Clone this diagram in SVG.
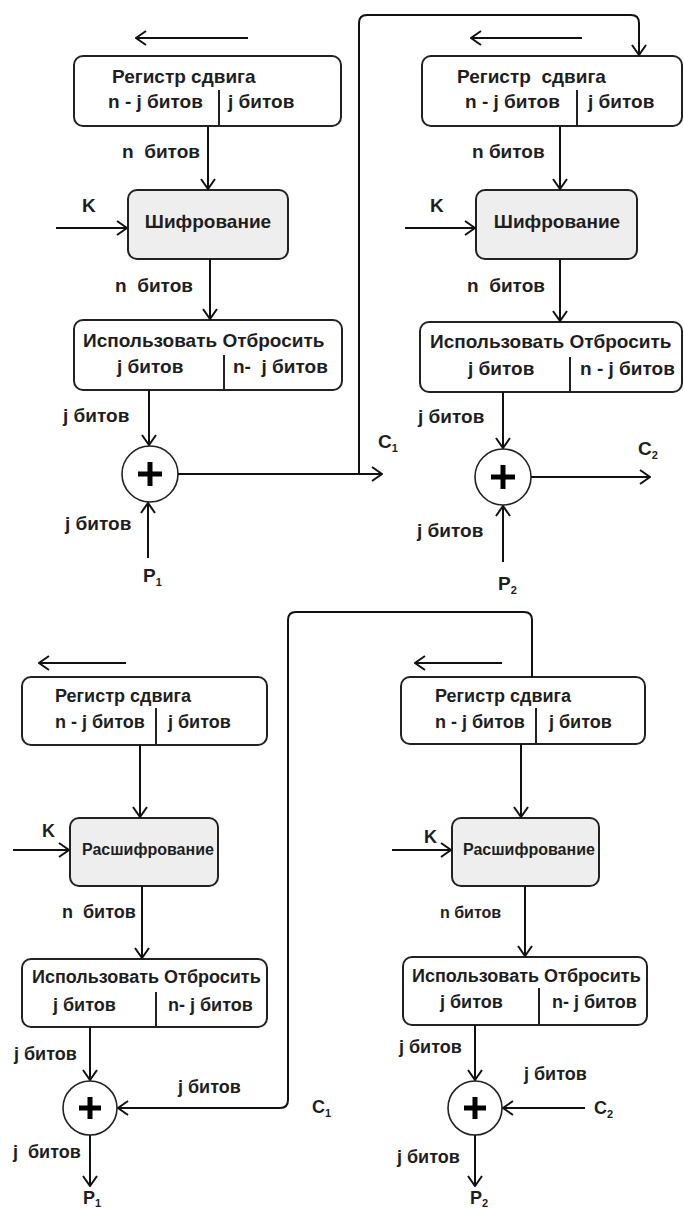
<svg xmlns="http://www.w3.org/2000/svg" width="684" height="1208" viewBox="0 0 684 1208">
  <defs>
    <marker id="arr" viewBox="0 0 12 16" refX="11" refY="8" markerWidth="12" markerHeight="16" markerUnits="userSpaceOnUse" orient="auto">
      <path d="M1,1 L11,8 L1,15" fill="none" stroke="#111" stroke-width="2"/>
    </marker>
    <style>
      .box{fill:#fff;stroke:#222;stroke-width:2}
      .proc{fill:#eeeeee;stroke:#222;stroke-width:2}
      .div{stroke:#222;stroke-width:2}
      .ar{fill:none;stroke:#111;stroke-width:2;marker-end:url(#arr)}
      .xor{fill:#fff;stroke:#222;stroke-width:1.6}
      .plus{stroke:#000;stroke-width:5}
      text{font-family:"Liberation Sans",Arial,sans-serif;font-weight:bold;fill:#1e1e1e;white-space:pre}
      .t{font-size:19px}
      .s{font-size:18px}
      .r{font-size:16px}
      .sub{font-size:11px}
    </style>
  </defs>

  <!-- ===== Encryption, stage 1 ===== -->
  <g id="enc1-shift"><path class="ar" d="M248,38 L136,38"/></g>
  <g id="enc1-register">
    <rect class="box" x="74" y="56" width="267" height="70" rx="9"/>
    <line class="div" x1="219" y1="90" x2="219" y2="126"/>
    <text class="t" x="112" y="83">Регистр сдвига</text>
    <text class="t" x="108" y="108">n - j битов</text>
    <text class="t" x="228" y="108">j битов</text>
  </g>
  <g id="enc1-cipher">
    <rect class="proc" x="128" y="190" width="160" height="69" rx="9"/>
    <text class="t" x="208" y="228" text-anchor="middle">Шифрование</text>
  </g>
  <g id="enc1-select">
    <rect class="box" x="74" y="320" width="268" height="70" rx="9"/>
    <line class="div" x1="224" y1="355" x2="224" y2="390"/>
    <text class="t" x="83" y="347">Использовать Отбросить</text>
    <text class="t" x="117" y="373">j битов</text>
    <text class="t" x="233" y="373" xml:space="preserve">n-  j битов</text>
  </g>
  <g id="enc1-xor">
    <circle class="xor" cx="150" cy="474" r="28"/>
    <path class="plus" d="M138,474 H162 M150,462 V486"/>
  </g>

  <!-- ===== Encryption, stage 2 ===== -->
  <g id="enc2-shift"><path class="ar" d="M582,38 L471,38"/></g>
  <g id="enc2-register">
    <rect class="box" x="422" y="56" width="260" height="70" rx="9"/>
    <line class="div" x1="577" y1="90" x2="577" y2="126"/>
    <text class="t" x="457" y="83" xml:space="preserve">Регистр  сдвига</text>
    <text class="t" x="465" y="108">n - j битов</text>
    <text class="t" x="588" y="108">j битов</text>
  </g>
  <g id="enc2-cipher">
    <rect class="proc" x="476" y="190" width="161" height="69" rx="9"/>
    <text class="t" x="557" y="228" text-anchor="middle">Шифрование</text>
  </g>
  <g id="enc2-select">
    <rect class="box" x="420" y="322" width="262" height="70" rx="9"/>
    <line class="div" x1="570" y1="357" x2="570" y2="392"/>
    <text class="t" x="430" y="348">Использовать Отбросить</text>
    <text class="t" x="468" y="375">j битов</text>
    <text class="t" x="580" y="375">n - j битов</text>
  </g>
  <g id="enc2-xor">
    <circle class="xor" cx="503" cy="477" r="28"/>
    <path class="plus" d="M491,477 H515 M503,465 V489"/>
  </g>

  <!-- ===== Decryption, stage 1 ===== -->
  <g id="dec1-shift"><path class="ar" d="M126,663 L39,663"/></g>
  <g id="dec1-register">
    <rect class="box" x="22" y="677" width="245" height="68" rx="9"/>
    <line class="div" x1="156" y1="708" x2="156" y2="745"/>
    <text class="s" x="55" y="702">Регистр сдвига</text>
    <text class="s" x="55" y="728">n - j битов</text>
    <text class="s" x="168" y="728">j битов</text>
  </g>
  <g id="dec1-cipher">
    <rect class="proc" x="70" y="818" width="148" height="68" rx="9"/>
    <text class="r" x="82" y="855">Расшифрование</text>
  </g>
  <g id="dec1-select">
    <rect class="box" x="22" y="959" width="245" height="68" rx="9"/>
    <line class="div" x1="156" y1="992" x2="156" y2="1027"/>
    <text class="s" x="32" y="983">Использовать Отбросить</text>
    <text class="s" x="53" y="1011">j битов</text>
    <text class="s" x="168" y="1011">n- j битов</text>
  </g>
  <g id="dec1-xor">
    <circle class="xor" cx="90" cy="1108" r="27"/>
    <path class="plus" d="M79,1108 H101 M90,1097 V1119"/>
  </g>

  <!-- ===== Decryption, stage 2 ===== -->
  <g id="dec2-shift"><path class="ar" d="M502,663 L415,663"/></g>
  <g id="dec2-register">
    <rect class="box" x="401" y="677" width="244" height="67" rx="9"/>
    <line class="div" x1="536" y1="708" x2="536" y2="744"/>
    <text class="s" x="435" y="702">Регистр сдвига</text>
    <text class="s" x="435" y="728">n - j битов</text>
    <text class="s" x="549" y="728">j битов</text>
  </g>
  <g id="dec2-cipher">
    <rect class="proc" x="452" y="818" width="147" height="68" rx="9"/>
    <text class="r" x="463" y="855">Расшифрование</text>
  </g>
  <g id="dec2-select">
    <rect class="box" x="403" y="957" width="244" height="68" rx="9"/>
    <line class="div" x1="539" y1="988" x2="539" y2="1025"/>
    <text class="s" x="412" y="982">Использовать Отбросить</text>
    <text class="s" x="440" y="1008">j битов</text>
    <text class="s" x="552" y="1008">n- j битов</text>
  </g>
  <g id="dec2-xor">
    <circle class="xor" cx="475" cy="1108" r="27"/>
    <path class="plus" d="M464,1108 H486 M475,1097 V1119"/>
  </g>

  <!-- ===== Connectors ===== -->
  <g id="connectors">
    <!-- encryption stage 1 -->
    <path class="ar" d="M208,126 L208,189"/>
    <path class="ar" d="M56,228 L127,228"/>
    <path class="ar" d="M210,259 L210,319"/>
    <path class="ar" d="M149,390 L149,445"/>
    <path class="ar" d="M148,558 L148,503"/>
    <path class="ar" d="M178,474 L382,474"/>
    <path class="ar" d="M359,474 L359,23 Q359,15 367,15 L631,15 Q639,15 639,23 L639,55"/>
    <!-- encryption stage 2 -->
    <path class="ar" d="M560,126 L560,189"/>
    <path class="ar" d="M405,228 L475,228"/>
    <path class="ar" d="M560,259 L560,321"/>
    <path class="ar" d="M503,392 L503,448"/>
    <path class="ar" d="M503,562 L503,506"/>
    <path class="ar" d="M531,477 L650,477"/>
    <!-- decryption stage 1 -->
    <path class="ar" d="M140,745 L140,817"/>
    <path class="ar" d="M13,850 L69,850"/>
    <path class="ar" d="M142,886 L142,958"/>
    <path class="ar" d="M90,1027 L90,1080"/>
    <path class="ar" d="M532,677 L532,620 Q532,612 524,612 L296,612 Q288,612 288,620 L288,1100 Q288,1108 280,1108 L118,1108"/>
    <path class="ar" d="M90,1135 L90,1186"/>
    <!-- decryption stage 2 -->
    <path class="ar" d="M521,744 L521,817"/>
    <path class="ar" d="M392,850 L451,850"/>
    <path class="ar" d="M525,886 L525,956"/>
    <path class="ar" d="M475,1025 L475,1080"/>
    <path class="ar" d="M585,1108 L503,1108"/>
    <path class="ar" d="M475,1135 L475,1186"/>
  </g>

  <!-- ===== Connector labels ===== -->
  <g id="labels">
    <text class="t" x="122" y="158" xml:space="preserve">n  битов</text>
    <text class="t" x="82" y="212">K</text>
    <text class="t" x="115" y="292" xml:space="preserve">n  битов</text>
    <text class="t" x="63" y="422">j битов</text>
    <text class="t" x="65" y="530">j битов</text>
    <text class="t" x="143" y="582">P<tspan class="sub" dy="4">1</tspan></text>
    <text class="t" x="378" y="448">C<tspan class="sub" dy="4">1</tspan></text>

    <text class="t" x="472" y="158">n битов</text>
    <text class="t" x="430" y="212">K</text>
    <text class="t" x="467" y="292" xml:space="preserve">n  битов</text>
    <text class="t" x="418" y="423">j битов</text>
    <text class="t" x="638" y="455">C<tspan class="sub" dy="4">2</tspan></text>
    <text class="t" x="417" y="537">j битов</text>
    <text class="t" x="498" y="590">P<tspan class="sub" dy="4">2</tspan></text>

    <text class="s" x="42" y="837">K</text>
    <text class="s" x="62" y="918" xml:space="preserve">n  битов</text>
    <text class="s" x="14" y="1060">j битов</text>
    <text class="s" x="178" y="1093">j битов</text>
    <text class="s" x="312" y="1113">C<tspan class="sub" dy="4">1</tspan></text>
    <text class="s" x="13" y="1158" xml:space="preserve">j  битов</text>
    <text class="s" x="83" y="1204">P<tspan class="sub" dy="3">1</tspan></text>

    <text class="s" x="424" y="843">K</text>
    <text class="r" x="440" y="918">n битов</text>
    <text class="s" x="399" y="1053">j битов</text>
    <text class="s" x="524" y="1080">j битов</text>
    <text class="s" x="594" y="1114">C<tspan class="sub" dy="4">2</tspan></text>
    <text class="s" x="397" y="1163">j битов</text>
    <text class="s" x="470" y="1204">P<tspan class="sub" dy="3">2</tspan></text>
  </g>
</svg>
